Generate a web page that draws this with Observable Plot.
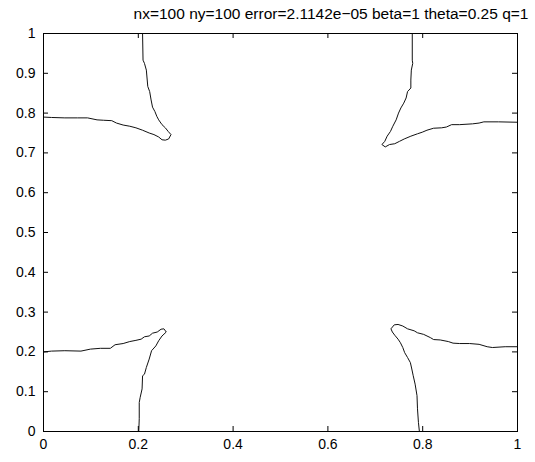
<!DOCTYPE html>
<html>
<head>
<meta charset="utf-8">
<script src="https://cdn.jsdelivr.net/npm/d3@7"></script>
<script src="https://cdn.jsdelivr.net/npm/@observablehq/plot@0.6"></script>
<style>
  html, body { margin: 0; padding: 0; background: #fff; }
  #wrap { width: 535px; height: 462px; position: relative; font-family: "Liberation Sans", Arial, Helvetica, sans-serif; }
  #chart { position: absolute; left: 0; top: 0; }
  #title { position: absolute; left: 130px; width: 402px; top: 4px; height: 20px; text-align: center; font-size: 15.5px; line-height: 20px; color: #000; white-space: nowrap; z-index: 2; }
</style>
</head>
<body>
<div id="wrap">
  <div id="chart"></div>
  <div id="title"></div>
</div>
<script>
const titleText = "nx=100 ny=100 error=2.1142e\u221205 beta=1 theta=0.25 q=1";
const xTicks = [0, 0.2, 0.4, 0.6, 0.8, 1];
const yTicks = [0, 0.1, 0.2, 0.3, 0.4, 0.5, 0.6, 0.7, 0.8, 0.9, 1];

// top-left contour
const tlX = [0.209, 0.210, 0.213, 0.217, 0.220, 0.224, 0.227, 0.230, 0.235, 0.239, 0.243, 0.250, 0.257, 0.263, 0.269, 0.264, 0.257, 0.250, 0.243, 0.233, 0.223, 0.209, 0.195, 0.182, 0.168, 0.154, 0.144, 0.127, 0.113, 0.093, 0.072, 0.045, 0.017, 0];
const tlY = [1.0, 0.933, 0.925, 0.908, 0.867, 0.854, 0.833, 0.815, 0.804, 0.792, 0.783, 0.771, 0.763, 0.754, 0.746, 0.735, 0.732, 0.733, 0.740, 0.746, 0.750, 0.757, 0.763, 0.767, 0.770, 0.775, 0.781, 0.782, 0.783, 0.788, 0.788, 0.788, 0.789, 0.790];

// top-right contour
const trX = [0.778, 0.778, 0.779, 0.776, 0.775, 0.775, 0.768, 0.765, 0.760, 0.754, 0.749, 0.744, 0.737, 0.732, 0.725, 0.720, 0.714, 0.721, 0.730, 0.741, 0.751, 0.761, 0.775, 0.789, 0.799, 0.809, 0.823, 0.840, 0.850, 0.861, 0.878, 0.905, 0.919, 0.929, 0.960, 1.0];
const trY = [1.0, 0.933, 0.925, 0.908, 0.883, 0.863, 0.854, 0.838, 0.825, 0.813, 0.800, 0.783, 0.767, 0.754, 0.742, 0.729, 0.721, 0.715, 0.721, 0.723, 0.729, 0.735, 0.742, 0.748, 0.752, 0.757, 0.762, 0.763, 0.765, 0.771, 0.771, 0.773, 0.775, 0.778, 0.778, 0.777];

// bottom-left contour
const blX = [0, 0.017, 0.045, 0.079, 0.099, 0.120, 0.141, 0.151, 0.168, 0.182, 0.195, 0.206, 0.213, 0.223, 0.230, 0.240, 0.248, 0.254, 0.259, 0.250, 0.243, 0.237, 0.228, 0.223, 0.217, 0.213, 0.209, 0.208, 0.204, 0.202, 0.202, 0.201];
const blY = [0.200, 0.202, 0.203, 0.202, 0.207, 0.209, 0.209, 0.218, 0.221, 0.226, 0.229, 0.232, 0.238, 0.240, 0.247, 0.250, 0.257, 0.258, 0.250, 0.240, 0.228, 0.215, 0.203, 0.182, 0.161, 0.144, 0.140, 0.107, 0.086, 0.073, 0.032, 0.0];

// bottom-right contour
const brX = [1.0, 0.974, 0.947, 0.936, 0.919, 0.899, 0.878, 0.864, 0.854, 0.837, 0.823, 0.816, 0.802, 0.789, 0.782, 0.768, 0.758, 0.748, 0.740, 0.733, 0.736, 0.741, 0.748, 0.753, 0.758, 0.762, 0.768, 0.774, 0.777, 0.780, 0.784, 0.788, 0.789, 0.791, 0.793];
const brY = [0.213, 0.213, 0.211, 0.213, 0.219, 0.221, 0.221, 0.222, 0.226, 0.230, 0.231, 0.236, 0.244, 0.248, 0.253, 0.258, 0.265, 0.269, 0.268, 0.258, 0.250, 0.242, 0.232, 0.223, 0.211, 0.198, 0.186, 0.173, 0.157, 0.140, 0.119, 0.090, 0.057, 0.023, 0.0];

const curves = [
  {name: "tl", xs: tlX, ys: tlY},
  {name: "tr", xs: trX, ys: trY},
  {name: "bl", xs: blX, ys: blY},
  {name: "br", xs: brX, ys: brY}
];
const pts = curves.flatMap(c => c.xs.map((x, i) => ({curve: c.name, x, y: c.ys[i]})));

document.getElementById("title").textContent = titleText;

const W = 535, H = 462;
const mL = 43, mR = 18, mT = 33, mB = 31;
const iw = W - mL - mR, ih = H - mT - mB;
const tick = 5;
const fmt = d => String(d);

const chart = Plot.plot({
  width: W,
  height: H,
  marginLeft: mL,
  marginRight: mR,
  marginTop: mT,
  marginBottom: mB,
  style: {fontFamily: "'Liberation Sans', Arial, Helvetica, sans-serif", fontSize: "14px", color: "black", background: "white", overflow: "visible"},
  x: {domain: [0, 1], nice: false},
  y: {domain: [0, 1], nice: false},
  marks: [
    Plot.line(pts, {x: "x", y: "y", z: "curve", stroke: "#111", strokeWidth: 1, curve: "linear"}),
    // inward ticks on all four sides
    Plot.tickX(xTicks, {x: d => d, stroke: "black", insetTop: ih - tick}),
    Plot.tickX(xTicks, {x: d => d, stroke: "black", insetBottom: ih - tick}),
    Plot.tickY(yTicks, {y: d => d, stroke: "black", insetRight: iw - tick}),
    Plot.tickY(yTicks, {y: d => d, stroke: "black", insetLeft: iw - tick}),
    Plot.axisX({ticks: xTicks, tickSize: 0, tickPadding: 8, tickFormat: fmt, label: null, fontSize: 14}),
    Plot.axisY({ticks: yTicks, tickSize: 0, tickPadding: 8, tickFormat: fmt, label: null, fontSize: 14}),
    Plot.frame({stroke: "black", strokeWidth: 1})
  ]
});
document.getElementById("chart").appendChild(chart);
</script>
</body>
</html>
